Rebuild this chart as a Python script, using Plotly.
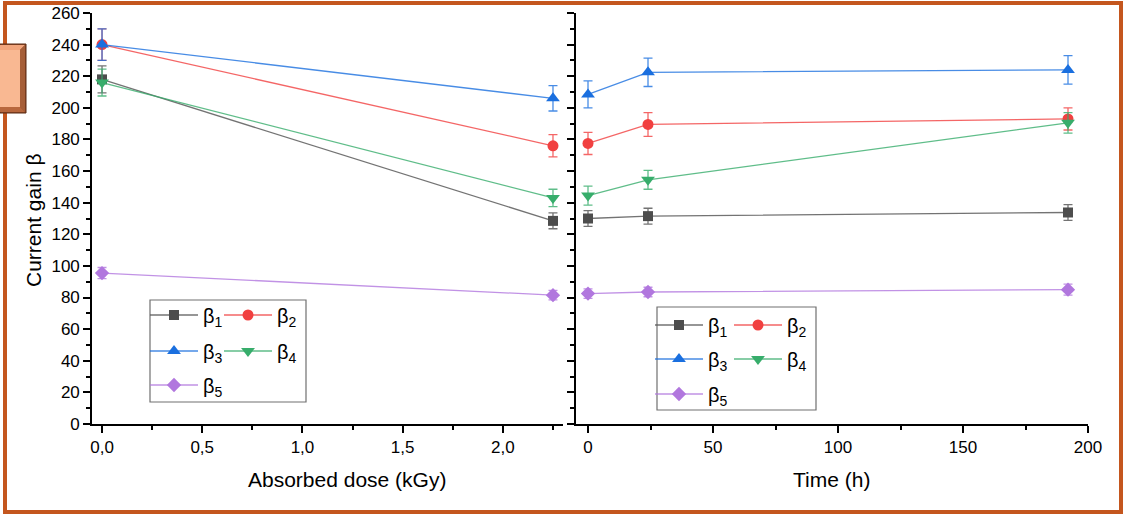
import plotly.graph_objects as go

W, H = 1124, 514

# ---------------- data ----------------
dose = [0.0, 2.25]
b1_dose = [218, 128.5]
b2_dose = [240, 176]
b3_dose = [240, 206]
b4_dose = [216, 143]
b5_dose = [95.5, 81.5]
e1_dose = [8.5, 5]
e2_dose = [10, 7]
e3_dose = [10, 8]
e4_dose = [8.5, 5.5]
e5_dose = [3.5, 3]

time_h = [0, 24, 192]
b1_time = [130, 131.5, 133.8]
b2_time = [177.5, 189.5, 193]
b3_time = [208.5, 222.5, 224]
b4_time = [144.5, 154.5, 190.5]
b5_time = [82.5, 83.5, 85]
e1_time = [5, 5, 5]
e2_time = [7, 7.5, 7]
e3_time = [8.5, 9, 9]
e4_time = [6, 6, 6.5]
e5_time = [3, 3, 3.5]

names = ["β<sub>1</sub>", "β<sub>2</sub>", "β<sub>3</sub>", "β<sub>4</sub>", "β<sub>5</sub>"]
x_dose_ticks = [0, 0.5, 1.0, 1.5, 2.0]
x_time_ticks = [0, 50, 100, 150, 200]
y_ticks = list(range(0, 261, 20))

# ---------------- styles ----------------
mcol = ["#4D4D4D", "#F14040", "#1A6FDF", "#37AD6B", "#B177DE"]
lcol = ["rgba(90,90,90,0.85)", "rgba(241,64,64,0.8)", "rgba(26,111,223,0.8)",
        "rgba(55,173,107,0.8)", "rgba(177,119,222,0.8)"]
symbols = ["square", "circle", "triangle-up", "triangle-down", "diamond"]
msizes = [10, 11, 12, 12, 11]
FONT = "Liberation Sans, Arial, sans-serif"

def px2x(px):
    return px / W

def px2y(py):
    return 1 - py / H

fig = go.Figure()

dose_vals = [b1_dose, b2_dose, b3_dose, b4_dose, b5_dose]
dose_errs = [e1_dose, e2_dose, e3_dose, e4_dose, e5_dose]
time_vals = [b1_time, b2_time, b3_time, b4_time, b5_time]
time_errs = [e1_time, e2_time, e3_time, e4_time, e5_time]

for i in range(5):
    fig.add_trace(go.Scatter(
        x=dose, y=dose_vals[i], mode="lines+markers", name=names[i],
        xaxis="x", yaxis="y", legend="legend" if i == 0 else f"legend{i+1}",
        showlegend=True,
        line=dict(color=lcol[i], width=1.3),
        marker=dict(symbol=symbols[i], size=msizes[i], color=mcol[i]),
        error_y=dict(type="data", array=dose_errs[i], visible=True,
                     color=lcol[i], thickness=1.3, width=4.5),
    ))
for i in range(5):
    fig.add_trace(go.Scatter(
        x=time_h, y=time_vals[i], mode="lines+markers", name=names[i],
        xaxis="x2", yaxis="y2", legend=f"legend{i+6}",
        showlegend=True,
        line=dict(color=lcol[i], width=1.3),
        marker=dict(symbol=symbols[i], size=msizes[i], color=mcol[i]),
        error_y=dict(type="data", array=time_errs[i], visible=True,
                     color=lcol[i], thickness=1.3, width=4.5),
    ))

ydom = [px2y(424), px2y(13)]
axis_common = dict(showline=True, linecolor="black", linewidth=1.6,
                   ticks="outside", ticklen=7, tickwidth=1.6, tickcolor="black",
                   showgrid=False, zeroline=False, automargin=False,
                   tickfont=dict(family=FONT, size=17, color="black"))
minor_common = dict(ticks="outside", ticklen=4, tickwidth=1.6, tickcolor="black")

fig.update_layout(
    width=W, height=H,
    margin=dict(l=0, r=0, t=0, b=0, pad=0, autoexpand=False),
    paper_bgcolor="white", plot_bgcolor="white",
    separators=",.",
    showlegend=True,
    font=dict(family=FONT, color="black"),
    xaxis=dict(domain=[px2x(92), px2x(563)], range=[-0.05, 2.3], anchor="y",
               tickvals=x_dose_ticks, tickformat=".1f",
               minor=dict(dtick=0.25, tick0=0, **minor_common), **axis_common),
    yaxis=dict(domain=ydom, range=[0, 260], anchor="x", tickvals=y_ticks,
               minor=dict(dtick=10, tick0=0, **minor_common), **axis_common),
    xaxis2=dict(domain=[px2x(576), px2x(1088)], range=[-4.8, 200], anchor="y2",
                tickvals=x_time_ticks,
                minor=dict(dtick=25, tick0=0, **minor_common), **axis_common),
    yaxis2=dict(domain=ydom, range=[0, 260], anchor="x2", tickvals=y_ticks,
                showticklabels=False,
                minor=dict(dtick=10, tick0=0, **minor_common), **axis_common),
)

leg_common = dict(orientation="h", bgcolor="rgba(0,0,0,0)", borderwidth=0,
                  font=dict(family=FONT, size=20, color="black"),
                  itemwidth=48, xanchor="left", yanchor="middle",
                  itemclick=False, itemdoubleclick=False, visible=True)
# legend item positions (line start x, row center y), left panel then right panel
leg_pos = [(145, 315), (219, 315), (145, 351), (219, 351), (145, 385),
           (650, 325), (729, 325), (650, 359), (729, 359), (650, 394)]
leg_layout = {}
for k, (lx, ly) in enumerate(leg_pos):
    key = "legend" if k == 0 else f"legend{k+1}"
    leg_layout[key] = dict(x=px2x(lx), y=px2y(ly), **leg_common)
fig.update_layout(**leg_layout)

annotations = [
    dict(text="Absorbed dose (kGy)", x=px2x(347), y=px2y(479), xref="paper", yref="paper",
         showarrow=False, xanchor="center", yanchor="middle",
         font=dict(family=FONT, size=21, color="black")),
    dict(text="Time (h)", x=px2x(832), y=px2y(479), xref="paper", yref="paper",
         showarrow=False, xanchor="center", yanchor="middle",
         font=dict(family=FONT, size=21, color="black")),
    dict(text="Current gain β", x=px2x(33), y=px2y(221), xref="paper", yref="paper",
         showarrow=False, xanchor="center", yanchor="middle", textangle=-90,
         font=dict(family=FONT, size=21, color="black")),
]
fig.update_layout(annotations=annotations)

ORANGE = "#C4561E"
shapes = [
    dict(type="rect", xref="paper", yref="paper", x0=px2x(5), x1=px2x(1121), y0=px2y(512), y1=px2y(3),
         line=dict(color=ORANGE, width=4), fillcolor="rgba(0,0,0,0)", layer="above"),
    dict(type="rect", xref="paper", yref="paper", x0=px2x(150), x1=px2x(306), y0=px2y(402), y1=px2y(300),
         line=dict(color="#707070", width=1.2), fillcolor="rgba(0,0,0,0)", layer="above"),
    dict(type="rect", xref="paper", yref="paper", x0=px2x(657), x1=px2x(816), y0=px2y(410), y1=px2y(307),
         line=dict(color="#707070", width=1.2), fillcolor="rgba(0,0,0,0)", layer="above"),
    dict(type="rect", xref="paper", yref="paper", x0=0, x1=px2x(26), y0=px2y(113), y1=px2y(44),
         line=dict(color="#5C2A12", width=1), fillcolor="#8E4A2A", layer="above"),
    dict(type="path", xref="paper", yref="paper",
         path=f"M 0 {px2y(45)} L {px2x(25)} {px2y(45)} L {px2x(20)} {px2y(50)} L 0 {px2y(50)} Z",
         line=dict(width=0), fillcolor="#F2A57C", layer="above"),
    dict(type="path", xref="paper", yref="paper",
         path=f"M {px2x(25)} {px2y(45)} L {px2x(25)} {px2y(112)} L {px2x(20)} {px2y(107)} L {px2x(20)} {px2y(50)} Z",
         line=dict(width=0), fillcolor="#A65E38", layer="above"),
    dict(type="path", xref="paper", yref="paper",
         path=f"M 0 {px2y(107)} L {px2x(20)} {px2y(107)} L {px2x(25)} {px2y(112)} L 0 {px2y(112)} Z",
         line=dict(width=0), fillcolor="#B8673D", layer="above"),
    dict(type="rect", xref="paper", yref="paper", x0=0, x1=px2x(20), y0=px2y(107), y1=px2y(50),
         line=dict(width=0), fillcolor="#F9B892", layer="above"),
]
fig.update_layout(shapes=shapes)

post = ("document.documentElement.style.margin='0px';"
        "document.documentElement.style.overflow='hidden';"
        "document.body.style.margin='0px';document.body.style.padding='0px';"
        "document.body.style.overflow='hidden';"
        "var gd=document.getElementById('{plot_id}');"
        "gd.style.position='fixed';gd.style.left='0px';gd.style.top='0px';")

fig.write_html("out.html", config={"displayModeBar": False}, post_script=post)
